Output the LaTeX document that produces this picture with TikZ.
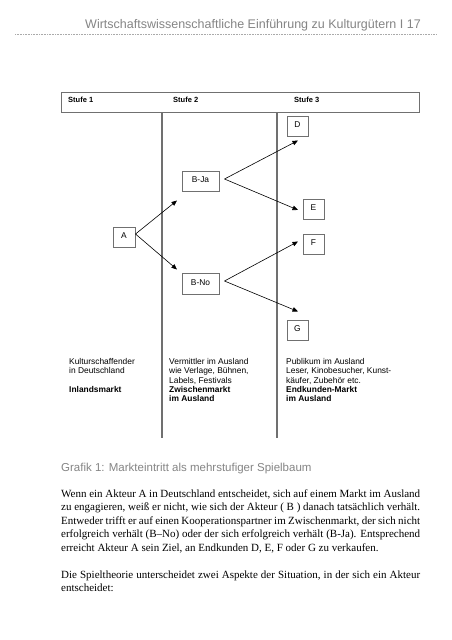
\documentclass[tikz,border=0pt]{standalone}
\usepackage{fontspec}
\setmainfont{Liberation Serif}
\setsansfont{Liberation Sans}
\usetikzlibrary{arrows.meta}
\definecolor{pagegrey}{HTML}{858585}
\definecolor{linegrey}{HTML}{707070}
\begin{document}
\begin{tikzpicture}[x=1pt,y=-1pt,
  greytext/.style={text=pagegrey,inner sep=0pt},
  box/.style={draw=linegrey,line width=0.9pt,inner sep=0pt,minimum width=#1,minimum height=20pt,text height=6pt,text depth=3pt,font=\sffamily\fontsize{8.4}{9.3}\selectfont},
  conn/.style={draw=black,line width=0.6pt,-{Triangle[length=5.5pt,width=4.5pt]}},
  coltext/.style={anchor=north west,inner sep=0pt,align=left,font=\sffamily\fontsize{8.4}{9.3}\selectfont},
  stufe/.style={anchor=base west,inner sep=0pt,font=\sffamily\bfseries\fontsize{7.5}{9}\selectfont},
  bodyline/.style={anchor=base west,inner sep=0pt,font=\fontsize{11}{13.5}\selectfont},
  sepline/.style={draw=linegrey,line width=1.2pt}]
\useasboundingbox (0,0) rectangle (451,640);
\fill[white] (0,0) rectangle (451,640);

% running head
\node[greytext,anchor=base east,font=\sffamily\fontsize{12.5}{14}\selectfont] (runhead) at (421,28.5) {Wirtschaftswissenschaftliche Einführung zu Kulturgütern I 17};
\draw[pagegrey!70,line width=0.5pt,dash pattern=on 0.6pt off 1pt] (15,34.5) -- (437,34.5);

% table header
\draw[linegrey,line width=0.9pt] (61,92) rectangle (419,112);
\node[stufe] (s1) at (68,102) {Stufe 1};
\node[stufe] (s2) at (173,102) {Stufe 2};
\node[stufe] (s3) at (294,102) {Stufe 3};

% column separators
\draw[sepline] (162,112) -- (162,438);
\draw[sepline] (277,112) -- (277,438);

% boxes
\node[box=22pt] (A) at (124,237) {A};
\node[box=37pt] (BJa) at (200.5,181) {B-Ja};
\node[box=37pt,minimum height=21pt] (BNo) at (200.5,283.5) {B-No};
\node[box=21pt] (D) at (297.5,126) {D};
\node[box=21pt] (E) at (313.5,209) {E};
\node[box=21pt] (F) at (313.5,244) {F};
\node[box=21pt] (G) at (297.5,330) {G};

% connector end points
\coordinate (aOut) at (135.5,234);
\coordinate (jaIn) at (177,200.5);
\coordinate (noIn) at (177,269.5);
\coordinate (jaOut) at (224.5,179);
\coordinate (noOut) at (224.5,281);
\coordinate (dIn) at (298,140.5);
\coordinate (eIn) at (298,210);
\coordinate (fIn) at (298,241.5);
\coordinate (gIn) at (298,311.5);

\draw[conn] (aOut) -- (jaIn);
\draw[conn] (aOut) -- (noIn);
\draw[conn] (jaOut) -- (dIn);
\draw[conn] (jaOut) -- (eIn);
\draw[conn] (noOut) -- (fIn);
\draw[conn] (noOut) -- (gIn);

% column texts
\node[coltext] (c1) at (69,358.4) {Kulturschaffender\\in Deutschland\\[9.3pt]\textbf{Inlandsmarkt}};
\node[coltext] (c2) at (169,358.4) {Vermittler im Ausland\\wie Verlage, Bühnen,\\Labels, Festivals\\\textbf{Zwischenmarkt}\\\textbf{im Ausland}};
\node[coltext] (c3) at (286,358.4) {Publikum im Ausland\\Leser, Kinobesucher, Kunst-\\käufer, Zubehör etc.\\\textbf{Endkunden-Markt}\\\textbf{im Ausland}};

% caption
\node[greytext,anchor=base west,font=\sffamily\fontsize{11.5}{13}\selectfont] (caption) at (61,471.5) {Grafik 1: Markteintritt als mehrstufiger Spielbaum};

% body text
\node[bodyline] (l1) at (61,497) {\makebox[359pt][s]{Wenn ein Akteur A in Deutschland entscheidet, sich auf einem Markt im Ausland}};
\node[bodyline] (l2) at (61,510.5) {\makebox[359pt][s]{zu engagieren, weiß er nicht, wie sich der Akteur ( B ) danach tatsächlich verhält.}};
\node[bodyline] (l3) at (61,524) {\makebox[359pt][s]{Entweder trifft er auf einen Kooperationspartner im Zwischenmarkt, der sich nicht}};
\node[bodyline] (l4) at (61,537.5) {\makebox[359pt][s]{erfolgreich verhält (B–No) oder der sich erfolgreich verhält (B-Ja). Entsprechend}};
\node[bodyline] (l5) at (61,551) {erreicht Akteur A sein Ziel, an Endkunden D, E, F oder G zu verkaufen.};
\node[bodyline] (l6) at (61,578) {\makebox[359pt][s]{Die Spieltheorie unterscheidet zwei Aspekte der Situation, in der sich ein Akteur}};
\node[bodyline] (l7) at (61,591.5) {entscheidet:};
\end{tikzpicture}
\end{document}
